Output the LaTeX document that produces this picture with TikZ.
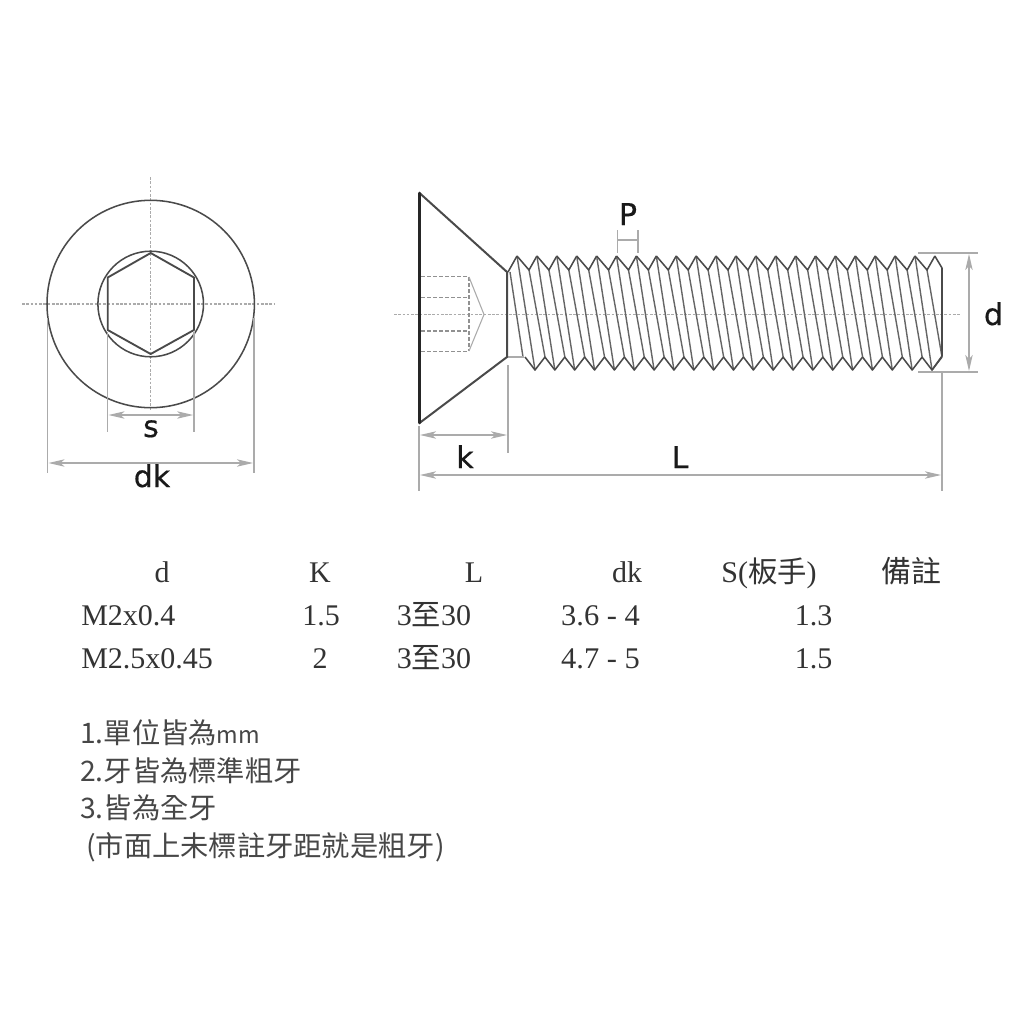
\documentclass[tikz,border=0pt]{standalone}
\usepackage{fontspec}
\usepackage{graphicx}
\setmainfont{Liberation Serif}
\newfontfamily\cjk{Noto Sans CJK TC}
\newfontfamily\lab[FakeBold=0.5]{DejaVu Sans}
\usetikzlibrary{arrows.meta}
\definecolor{dimc}{HTML}{ABABAB}
\definecolor{inkc}{HTML}{4A4A4A}
\definecolor{txtc}{HTML}{333333}
\tikzset{
  dimline/.style={draw=dimc,line width=1.1pt},
  dimarrow/.style={draw=dimc,line width=0.9pt,{Stealth[length=12pt,width=5.5pt,fill=dimc,inset=3pt]}-{Stealth[length=12pt,width=5.5pt,fill=dimc,inset=3pt]}},
  centre/.style={draw=dimc,line width=0.9pt,dash pattern=on 2pt off 1.2pt},
  ink/.style={draw=inkc,line width=1.15pt,line join=round},
  thread/.style={draw=inkc!85,line width=1.05pt},
  hidden/.style={draw=dimc!85!black,line width=1.3pt,dash pattern=on 3pt off 1.5pt},
  dimlabel/.style={font=\lab\fontsize{22.5}{24}\selectfont,text=black!90,inner sep=0pt,anchor=base},
  cell/.style={font=\fontsize{22.5}{24}\selectfont,text=txtc,inner sep=0pt,anchor=base},
  note/.style={font=\cjk\fontsize{21.2}{24}\selectfont,text=txtc!90,inner sep=0pt,anchor=base west}
}
\newcommand\fitw[2]{\resizebox{#1pt}{\height}{#2}}
\begin{document}
\begin{tikzpicture}[x=0.75pt,y=-0.75pt]
\useasboundingbox[fill=white] (0,0) rectangle (1024,1024);

% --- end view ---
\coordinate (cc) at (150.7,304);
\draw[centre] (22,304) -- (275,304);
\draw[centre] (150.7,177) -- (150.7,410);
\draw[ink] (cc) circle (103.7);
\draw[ink] (cc) circle (52.8);
\draw[ink,line width=1.4pt] (150.7,253) -- (194,277.5) -- (194,330) -- (150.7,354) -- (107.7,330) -- (107.7,277.5) -- cycle;

\coordinate (s1t) at (107.7,332); \coordinate (s1b) at (107.7,432);
\coordinate (s2t) at (194,332);   \coordinate (s2b) at (194,432);
\draw[dimline] (s1t) -- (s1b);
\draw[dimline] (s2t) -- (s2b);
\coordinate (s1a) at (108.5,415); \coordinate (s2a) at (193.2,415);
\draw[dimarrow] (s1a) -- (s2a);
\node[dimlabel] (slabel) at (151,437) {s};

\coordinate (k1t) at (47.5,318); \coordinate (k1b) at (47.5,473);
\coordinate (k2t) at (254,318);  \coordinate (k2b) at (254,473);
\draw[dimline] (k1t) -- (k1b);
\draw[dimline] (k2t) -- (k2b);
\coordinate (k1a) at (48.5,463); \coordinate (k2a) at (253,463);
\draw[dimarrow] (k1a) -- (k2a);
\node[dimlabel] (dklabel) at (152,487) {dk};

% --- side view ---
\draw[centre] (394,314.5) -- (960,314.5);
% socket
\draw[hidden] (421,276.5) -- (468,276.5);
\draw[hidden] (421,297.5) -- (468,297.5);
\draw[hidden] (421,331) -- (468,331);
\draw[hidden] (421,351.5) -- (468,351.5);
\draw[hidden] (469,277) -- (469,351);
\draw[draw=dimc,line width=0.8pt] (469,277) -- (484,314.5) -- (469,351);

% threads
\foreach \i in {0,...,20}{
  \pgfmathsetmacro\tc{517+19.9*\i}
  \pgfmathsetmacro\tr{529+19.9*\i}
  \pgfmathsetmacro\tn{517+19.9*(\i+1)}
  \pgfmathsetmacro\bc{535+19.85*\i}
  \pgfmathsetmacro\br{545+19.85*\i}
  \draw[thread] (\tc,256) -- (\bc,370);
  \draw[thread] (\tr,270) -- (\br,357);
  \draw[ink] (\tc,256) -- (\tr,270) -- (\tn,256);
  \pgfmathsetmacro\bp{525+19.85*\i}
  \draw[ink] (\bp,357) -- (\bc,370) -- (\br,357);
}
\draw[thread] (510,272) -- (523,357);
\draw[ink] (508,272) -- (517,256);
\draw[draw=dimc,line width=1pt] (507,357) -- (524,357);
\draw[ink] (934.8,256) -- (942,268) -- (942,356) -- (932,370);

% head
\draw[ink,line width=1.5pt] (419.5,193) -- (507,272) -- (507,357) -- (419.5,423);
\draw[draw=black!85,line width=2.2pt,line cap=round] (419.5,193) -- (419.5,423);

% P
\coordinate (p1t) at (617.5,230); \coordinate (p1b) at (617.5,253);
\coordinate (p2t) at (638,230);   \coordinate (p2b) at (638,253);
\draw[draw=dimc,line width=0.9pt] (p1t) -- (p1b);
\draw[draw=dimc,line width=0.9pt] (p2t) -- (p2b);
\draw[draw=dimc,line width=0.9pt] (617.5,240) -- (638,240);
\node[dimlabel] (plabel) at (628,225) {P};

% d
\coordinate (d1a) at (918,253); \coordinate (d1b) at (978,253);
\coordinate (d2a) at (918,372); \coordinate (d2b) at (978,372);
\draw[dimline] (d1a) -- (d1b);
\draw[dimline] (d2a) -- (d2b);
\coordinate (d1m) at (969,254); \coordinate (d2m) at (969,371);
\draw[dimarrow] (d1m) -- (d2m);
\node[dimlabel] (dlabel) at (993.5,325) {d};

% k
\coordinate (h1) at (419,426); \coordinate (h2) at (419,491);
\coordinate (h3) at (508,365); \coordinate (h4) at (508,453);
\draw[dimline] (h1) -- (h2);
\draw[dimline] (h3) -- (h4);
\coordinate (ka) at (420,435); \coordinate (kb) at (507,435);
\draw[dimarrow] (ka) -- (kb);
\node[dimlabel] (klabel) at (465,468) {k};

% L
\coordinate (e1) at (942,372); \coordinate (e2) at (942,491);
\draw[dimline] (e1) -- (e2);
\coordinate (la) at (420,475); \coordinate (lb) at (941,475);
\draw[dimarrow] (la) -- (lb);
\node[dimlabel] (llabel) at (680,468) {L};

% --- table ---
\node[cell] (h-d)  at (162,582) {d};
\node[cell] (h-k)  at (320,582) {K};
\node[cell] (h-l)  at (474,582) {L};
\node[cell] (h-dk) at (627,582) {dk};
\node[cell] (h-s)  at (769,582) {S({\cjk\fontsize{22}{24}\selectfont 板手})};
\node[cell] (h-n)  at (911,582) {{\cjk\fontsize{22.5}{24}\selectfont 備註}};

\node[cell,anchor=base west] (a-d) at (81,625) {M2x0.4};
\node[cell] (a-k)  at (321,625) {1.5};
\node[cell] (a-l)  at (434,625) {3{\cjk\fontsize{22}{24}\selectfont 至}30};
\node[cell] (a-dk) at (600.5,625) {\fitw{59}{3.6 - 4}};
\node[cell] (a-s)  at (813.5,625) {1.3};

\node[cell,anchor=base west] (b-d) at (81,668) {M2.5x0.45};
\node[cell] (b-k)  at (320,668) {2};
\node[cell] (b-l)  at (434,668) {3{\cjk\fontsize{22}{24}\selectfont 至}30};
\node[cell] (b-dk) at (600.5,668) {\fitw{59}{4.7 - 5}};
\node[cell] (b-s)  at (813.5,668) {1.5};

% --- notes ---
\node[note] (n1) at (80,743) {1.單位皆為{\fontsize{17.5}{24}\selectfont mm}};
\node[note] (n2) at (80,781) {2.牙皆為標準粗牙};
\node[note] (n3) at (80,818) {3.皆為全牙};
\node[note] (n4) at (86,856) {(市面上未標註牙距就是粗牙)};
\end{tikzpicture}
\end{document}
